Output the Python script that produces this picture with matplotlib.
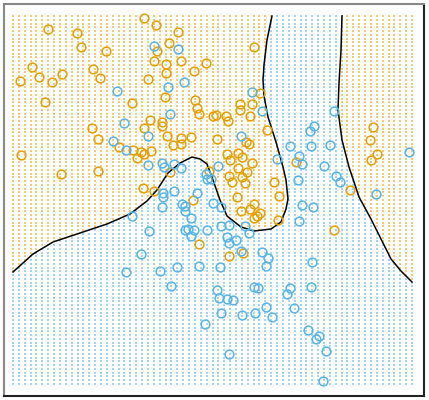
import numpy as np
import matplotlib
matplotlib.use("Agg")
import matplotlib.pyplot as plt
from matplotlib.path import Path

# readings (x1 to the right, x2 downwards)
orange_x1 = [144, 156, 48, 178, 77, 81, 169, 157, 106, 154, 166, 181, 206, 32, 93, 166, 194, 39, 62, 100,
             148, 20, 52, 165, 45, 132, 195, 197, 199, 213, 150, 162, 162, 144, 92, 98, 167, 181, 173, 181,
             191, 119, 133, 141, 144, 151, 137, 21, 61, 98, 170, 209, 143, 154, 193, 254, 260, 240, 240, 252,
             250, 216, 226, 228, 217, 246, 249, 267, 227, 230, 238, 242, 252, 238, 247, 229, 232, 242, 245, 274,
             296, 279, 237, 373, 370, 377, 371, 350, 199, 254, 250, 241, 260, 257, 254, 278, 334, 229, 243]
orange_x2 = [18, 25, 29, 32, 33, 47, 43, 51, 51, 61, 64, 61, 63, 67, 69, 73, 71, 77, 74, 78,
             79, 81, 82, 97, 102, 103, 100, 108, 114, 116, 120, 122, 126, 128, 128, 139, 136, 138, 145, 144,
             137, 147, 150, 152, 154, 151, 158, 155, 174, 171, 172, 171, 188, 191, 200, 47, 93, 104, 110, 104,
             116, 115, 116, 121, 139, 142, 144, 130, 154, 160, 153, 157, 163, 168, 172, 176, 182, 177, 183, 182,
             162, 196, 197, 127, 140, 154, 160, 190, 244, 204, 209, 211, 213, 216, 218, 220, 230, 256, 253]

blue_x1 = [154, 178, 184, 168, 117, 170, 124, 148, 113, 126, 148, 162, 164, 174, 181, 206, 207, 211, 174, 163,
           163, 197, 252, 262, 334, 314, 310, 241, 290, 311, 330, 299, 302, 277, 218, 324, 336, 340, 298, 409,
           376, 132, 162, 182, 185, 185, 191, 213, 149, 185, 188, 194, 191, 207, 141, 126, 160, 177, 199, 171,
           205, 221, 302, 313, 299, 221, 229, 245, 249, 227, 229, 236, 241, 262, 268, 266, 220, 312, 217, 219,
           227, 233, 254, 258, 290, 287, 311, 266, 294, 221, 242, 255, 272, 308, 319, 316, 326, 229, 323]
blue_x2 = [46, 49, 82, 87, 91, 114, 123, 136, 141, 150, 165, 163, 167, 164, 168, 174, 179, 179, 191, 193,
           197, 193, 92, 111, 111, 126, 131, 136, 146, 146, 145, 156, 164, 159, 166, 166, 176, 182, 180, 152,
           194, 216, 207, 204, 206, 211, 218, 203, 231, 230, 229, 230, 236, 230, 254, 272, 271, 267, 266, 286,
           324, 207, 205, 207, 221, 226, 225, 226, 233, 237, 243, 240, 251, 252, 258, 266, 267, 262, 290, 298,
           299, 300, 287, 288, 288, 294, 287, 307, 308, 313, 315, 313, 317, 330, 336, 339, 351, 354, 381]

# decision boundary, two pieces
bound_a_x1 = [13, 33, 53, 83, 107, 130, 147, 157, 168, 180, 192, 200, 207, 213, 220, 227, 241, 254, 271, 281,
              286, 288, 286, 283, 276, 268, 264, 263, 264, 267, 272]
bound_a_x2 = [272, 254, 242, 232, 224, 214, 201, 190, 173, 163, 157, 159, 164, 180, 200, 216, 227, 231, 229, 222,
              209, 199, 180, 167, 142, 117, 96, 80, 65, 40, 16]
bound_b_x1 = [342, 341, 339, 338, 342, 349, 359, 371, 381, 391, 401, 412]
bound_b_x2 = [16, 50, 83, 110, 140, 167, 197, 219, 239, 259, 271, 282]

ORANGE = "#E69F00"
BLUE = "#56B4E9"

# grid of background dots
gx, gy = np.meshgrid(np.linspace(13, 412, 69), np.linspace(16, 384, 99))
grid = np.column_stack([gx.ravel(), gy.ravel()])

reg1 = list(zip(bound_a_x1, bound_a_x2)) + [(bound_a_x1[-1], 8), (5, 8), (5, bound_a_x2[0])]
reg2 = list(zip(bound_b_x1, bound_b_x2)) + [(420, bound_b_x2[-1]), (420, 8), (bound_b_x1[0], 8)]
is_orange = Path(reg1).contains_points(grid) | Path(reg2).contains_points(grid)

fig = plt.figure(figsize=(4.29, 4.0), dpi=100)
ax = fig.add_axes([4 / 429, 4 / 400, 420 / 429, 392 / 400])

ax.scatter(grid[is_orange, 0], grid[is_orange, 1], s=0.8, marker="s", color=ORANGE,
           linewidths=0, alpha=0.55)
ax.scatter(grid[~is_orange, 0], grid[~is_orange, 1], s=0.8, marker="s", color=BLUE,
           linewidths=0, alpha=0.55)

ax.plot(bound_a_x1, bound_a_x2, color="black", lw=1.1)
ax.plot(bound_b_x1, bound_b_x2, color="black", lw=1.1)

ax.plot(orange_x1, orange_x2, "o", mfc="none", mec=ORANGE, ms=6.3, mew=1.1)
ax.plot(blue_x1, blue_x2, "o", mfc="none", mec=BLUE, ms=6.3, mew=1.1)

ax.set_xlim(4, 424)
ax.set_ylim(396, 4)
ax.set_xticks([])
ax.set_yticks([])
for side in ["left", "top"]:
    ax.spines[side].set_color("#888888")
    ax.spines[side].set_linewidth(1.5)
for side in ["right", "bottom"]:
    ax.spines[side].set_color("#222222")
    ax.spines[side].set_linewidth(1.5)

fig.savefig("out.png", dpi=100)
